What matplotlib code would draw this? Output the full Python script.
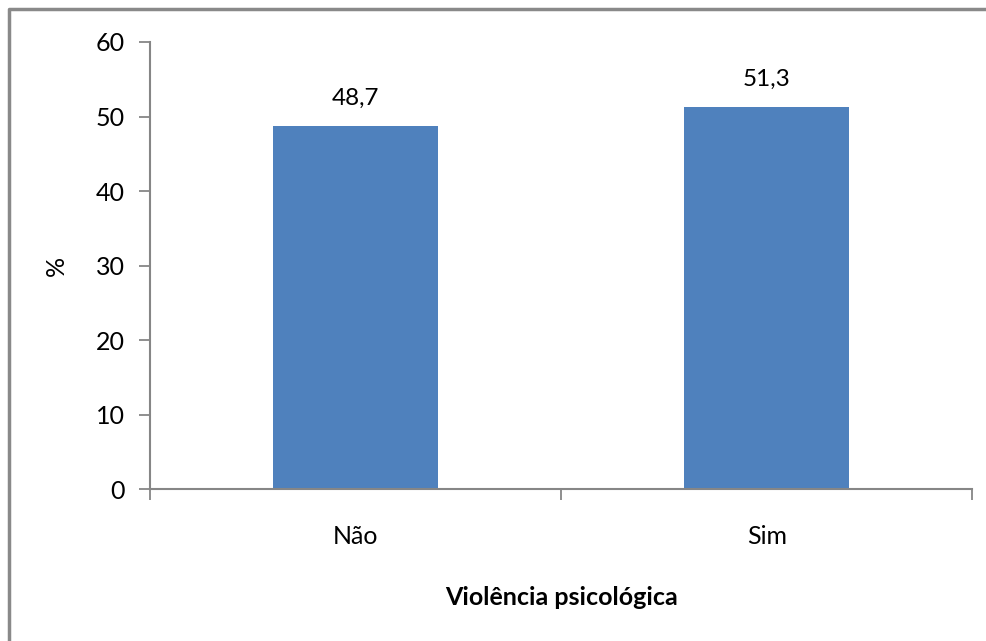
import matplotlib.pyplot as plt
from matplotlib.lines import Line2D

categories = ['Não', 'Sim']
values = [48.7, 51.3]
labels = ['48,7', '51,3']

plt.rcParams['font.family'] = ['Lato', 'DejaVu Sans']

fig = plt.figure(figsize=(9.87, 6.41), dpi=100)
ax = fig.add_axes([0.152, 0.237, 0.833, 0.6975])

# moldura cinza do gráfico (só esquerda e topo ficam visíveis)
x0, y0 = 9 / 987, 1 - 9 / 641
fig.add_artist(Line2D([x0, x0, 1.0], [0.0, y0, y0], transform=fig.transFigure,
                      color='#898989', linewidth=2.5, solid_capstyle='butt'))

x = range(len(categories))
ax.bar(x, values, width=0.4, color='#4F81BD')
for xi, v, t in zip(x, values, labels):
    ax.text(xi, v + 2.3, t, ha='center', va='bottom', fontsize=17.5)

ax.set_xlim(-0.5, 1.5)
ax.set_ylim(0, 60)
ax.set_yticks(range(0, 61, 10))
ax.set_xticks(list(x))
ax.set_xticklabels(categories, fontsize=18)
ax.set_xticks([-0.5, 0.5, 1.5], minor=True)
ax.tick_params(axis='x', which='major', length=0, pad=26)
ax.tick_params(axis='x', which='minor', length=8, width=1.3, color='#868686')
ax.tick_params(axis='y', length=8, width=1.3, color='#868686', labelsize=18, pad=10)

for s in ['top', 'right']:
    ax.spines[s].set_visible(False)
for s in ['left', 'bottom']:
    ax.spines[s].set_color('#868686')
    ax.spines[s].set_linewidth(1.5)

ax.set_ylabel('%', fontsize=18, labelpad=20)
ax.set_xlabel('Violência psicológica', fontsize=18, fontweight='bold', labelpad=27)

fig.savefig('out.png', dpi=100)
